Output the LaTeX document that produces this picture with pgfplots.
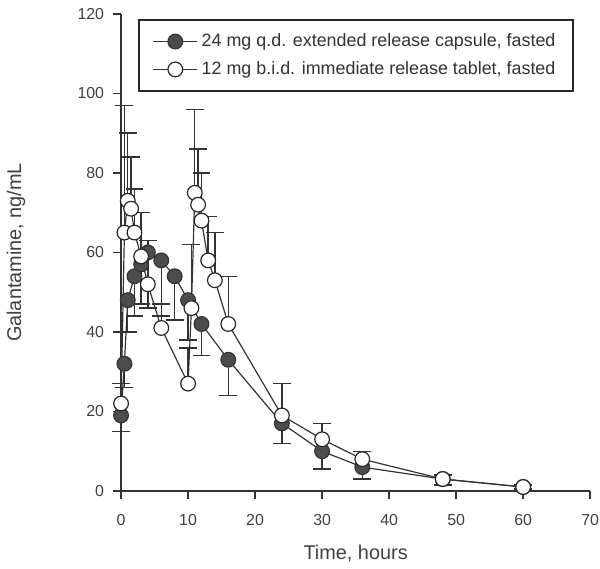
\documentclass[border=0pt]{standalone}
\usepackage{pgfplots}
\pgfplotsset{compat=1.18}
\usepackage{fontspec}
\setmainfont{Liberation Sans}

% 24 mg q.d. extended release capsule (error bars drawn downward)
\pgfplotstableread{
t    c    e
0    19   4
0.5  32   6
1    48   8
2    54   10
3    57   10
4    60   14
6    58   14
8    54   11
10   48   10
12   42   8
16   33   9
24   17   5
30   10   4.5
36   6    3
48   3    1.5
60   1    0.5
}\ercap

% 12 mg b.i.d. immediate release tablet (error bars drawn upward)
\pgfplotstableread{
t    c    e
0    22   5
0.5  65   32
1    73   17
1.5  71   13
2    65   11
3    59   11
4    52   11
6    41   6
10   27   9
10.5 46   16
11   75   21
11.5 72   14
12   68   12
13   58   11
14   53   12
16   42   12
24   19   8
30   13   4
36   8    2
48   3    1
60   1    0.5
}\irtab

\begin{document}
\begin{tikzpicture}
\begin{axis}[
  scale only axis,
  width=236pt, height=240pt,
  xmin=0, xmax=70, ymin=0, ymax=120,
  xtick={0,10,...,70}, ytick={0,20,...,120},
  axis lines*=left,
  axis line style={black!80, line width=0.8pt},
  tick style={black!80, line width=0.7pt},
  tick align=outside,
  major tick length=4pt,
  tick label style={font=\fontsize{8}{9}\selectfont, text=black!75},
  xticklabel style={yshift=-4.5pt, inner xsep=0.5pt},
  yticklabel style={xshift=-1pt},
  /pgf/number format/assume math mode=true,
  xlabel={Time, hours}, ylabel={Galantamine, ng/mL},
  label style={font=\fontsize{10}{12}\selectfont, text=black!75},
  xlabel style={yshift=-2.5pt},
  ylabel style={yshift=19.5pt},
  clip=false,
  extra description/.code={\path (axis description cs:0,1) ++(0,7pt);},
  legend cell align=left,
  legend style={at={(0.036,0.99)}, anchor=north west,
    font=\fontsize{9}{11}\selectfont, draw=black!85, line width=1pt,
    inner xsep=7pt, inner ysep=5pt, row sep=2pt, text=black!80,
    nodes={line width=0.6pt}},
  legend image code/.code={
    \draw[#1] (0pt,0pt) -- (22pt,0pt);
    \draw[#1, mark repeat=2, mark phase=2] plot coordinates {(0pt,0pt) (11pt,0pt) (22pt,0pt)};
  },
]
\addplot[black!80, line width=0.6pt, mark=*, mark size=3.7pt,
  mark options={fill=black!70, draw=black!80},
  error bars/.cd, y dir=minus, y explicit,
  error bar style={black!80, line width=0.7pt},
  error mark options={rotate=90, mark size=4.5pt, black!80, line width=0.7pt}]
  table[x=t, y=c, y error=e] {\ercap};
\addlegendentry{24 mg q.d. extended release capsule, fasted}
\addplot[black!80, line width=0.6pt, mark=*, mark size=3.7pt,
  mark options={fill=white, draw=black!85},
  error bars/.cd, y dir=plus, y explicit,
  error bar style={black!80, line width=0.7pt},
  error mark options={rotate=90, mark size=4.5pt, black!80, line width=0.7pt}]
  table[x=t, y=c, y error=e] {\irtab};
\addlegendentry{12 mg b.i.d. immediate release tablet, fasted}
\end{axis}
\end{tikzpicture}
\end{document}
